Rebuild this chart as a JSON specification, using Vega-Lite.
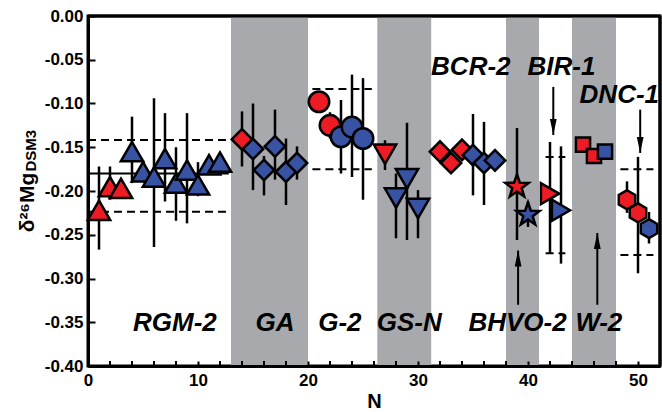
{
  "$schema": "https://vega.github.io/schema/vega-lite/v6.json",
  "width": 572,
  "height": 350,
  "autosize": {"type": "none"},
  "padding": {"left": 88, "top": 16, "right": 2, "bottom": 46},
  "background": "white",
  "config": {
    "font": "Liberation Sans",
    "view": {"stroke": "black", "strokeWidth": 3},
    "axis": {"grid": false, "domainColor": "black", "tickColor": "black", "labelColor": "black", "titleColor": "black", "domainWidth": 3, "tickWidth": 2, "labelFont": "Liberation Sans", "titleFont": "Liberation Sans", "labelFontWeight": "bold", "titleFontWeight": "bold", "labelFontSize": 17, "labelOverlap": false, "labelFlush": false, "zindex": 1}
  },
  "datasets": {
    "pts": [
      {"n": 1, "v": -0.222, "lo": -0.267, "hi": -0.172, "s": "RGM-2", "g": "r"},
      {"n": 2, "v": -0.195, "lo": -0.210, "hi": -0.172, "s": "RGM-2", "g": "r"},
      {"n": 3, "v": -0.197, "lo": -0.207, "hi": -0.187, "s": "RGM-2", "g": "r"},
      {"n": 4, "v": -0.155, "lo": -0.191, "hi": -0.115, "s": "RGM-2", "g": "b"},
      {"n": 5, "v": -0.178, "lo": -0.190, "hi": -0.165, "s": "RGM-2", "g": "b"},
      {"n": 6, "v": -0.184, "lo": -0.264, "hi": -0.094, "s": "RGM-2", "g": "b"},
      {"n": 7, "v": -0.163, "lo": -0.212, "hi": -0.111, "s": "RGM-2", "g": "b"},
      {"n": 8, "v": -0.191, "lo": -0.234, "hi": -0.150, "s": "RGM-2", "g": "b"},
      {"n": 9, "v": -0.176, "lo": -0.237, "hi": -0.111, "s": "RGM-2", "g": "b"},
      {"n": 10, "v": -0.193, "lo": -0.206, "hi": -0.167, "s": "RGM-2", "g": "b"},
      {"n": 11, "v": -0.170, "lo": -0.180, "hi": -0.160, "s": "RGM-2", "g": "b"},
      {"n": 12, "v": -0.167, "lo": -0.177, "hi": -0.157, "s": "RGM-2", "g": "b"},
      {"n": 14, "v": -0.141, "lo": -0.172, "hi": -0.109, "s": "GA", "g": "r"},
      {"n": 15, "v": -0.152, "lo": -0.199, "hi": -0.100, "s": "GA", "g": "b"},
      {"n": 16, "v": -0.176, "lo": -0.205, "hi": -0.160, "s": "GA", "g": "b"},
      {"n": 17, "v": -0.149, "lo": -0.187, "hi": -0.107, "s": "GA", "g": "b"},
      {"n": 18, "v": -0.178, "lo": -0.216, "hi": -0.140, "s": "GA", "g": "b"},
      {"n": 19, "v": -0.168, "lo": -0.187, "hi": -0.149, "s": "GA", "g": "b"},
      {"n": 21, "v": -0.098, "lo": -0.108, "hi": -0.088, "s": "G-2", "g": "r"},
      {"n": 22, "v": -0.125, "lo": -0.140, "hi": -0.110, "s": "G-2", "g": "r"},
      {"n": 23, "v": -0.138, "lo": -0.180, "hi": -0.096, "s": "G-2", "g": "b"},
      {"n": 24, "v": -0.127, "lo": -0.184, "hi": -0.067, "s": "G-2", "g": "b"},
      {"n": 25, "v": -0.140, "lo": -0.210, "hi": -0.071, "s": "G-2", "g": "b"},
      {"n": 27, "v": -0.158, "lo": -0.176, "hi": -0.142, "s": "GS-N", "g": "r"},
      {"n": 28, "v": -0.208, "lo": -0.254, "hi": -0.180, "s": "GS-N", "g": "b"},
      {"n": 29, "v": -0.186, "lo": -0.256, "hi": -0.122, "s": "GS-N", "g": "b"},
      {"n": 30, "v": -0.220, "lo": -0.254, "hi": -0.199, "s": "GS-N", "g": "b"},
      {"n": 32, "v": -0.155, "lo": -0.165, "hi": -0.145, "s": "BCR-2", "g": "r"},
      {"n": 33, "v": -0.168, "lo": -0.178, "hi": -0.158, "s": "BCR-2", "g": "r"},
      {"n": 34, "v": -0.153, "lo": -0.163, "hi": -0.143, "s": "BCR-2", "g": "r"},
      {"n": 35, "v": -0.159, "lo": -0.205, "hi": -0.112, "s": "BCR-2", "g": "b"},
      {"n": 36, "v": -0.168, "lo": -0.216, "hi": -0.121, "s": "BCR-2", "g": "b"},
      {"n": 37, "v": -0.165, "lo": -0.175, "hi": -0.155, "s": "BCR-2", "g": "b"},
      {"n": 39, "v": -0.195, "lo": -0.256, "hi": -0.128, "s": "BHVO-2", "g": "r"},
      {"n": 40, "v": -0.227, "lo": -0.241, "hi": -0.212, "s": "BHVO-2", "g": "b"},
      {"n": 42, "v": -0.203, "lo": -0.271, "hi": -0.144, "s": "BIR-1", "g": "r"},
      {"n": 43, "v": -0.222, "lo": -0.283, "hi": -0.149, "s": "BIR-1", "g": "b"},
      {"n": 45, "v": -0.147, "lo": -0.155, "hi": -0.139, "s": "W-2", "g": "r"},
      {"n": 46, "v": -0.160, "lo": -0.168, "hi": -0.152, "s": "W-2", "g": "r"},
      {"n": 47, "v": -0.155, "lo": -0.163, "hi": -0.147, "s": "W-2", "g": "b"},
      {"n": 49, "v": -0.210, "lo": -0.225, "hi": -0.189, "s": "DNC-1", "g": "r"},
      {"n": 50, "v": -0.225, "lo": -0.294, "hi": -0.161, "s": "DNC-1", "g": "r"},
      {"n": 51, "v": -0.243, "lo": -0.260, "hi": -0.224, "s": "DNC-1", "g": "b"}
    ],
    "bands": [
      {"n": 13, "n2": 20},
      {"n": 26.3, "n2": 31.2},
      {"n": 38, "n2": 41},
      {"n": 44, "n2": 48}
    ],
    "minor": [
      {"n": 2}, {"n": 4}, {"n": 6}, {"n": 8}, {"n": 12}, {"n": 14}, {"n": 16}, {"n": 18},
      {"n": 22}, {"n": 24}, {"n": 26}, {"n": 28}, {"n": 32}, {"n": 34}, {"n": 36}, {"n": 38},
      {"n": 42}, {"n": 44}, {"n": 46}, {"n": 48}
    ],
    "refs": [
      {"n": 0, "n2": 12.8, "v": -0.1417},
      {"n": 0, "n2": 12.8, "v": -0.2237},
      {"n": 20.4, "n2": 25.8, "v": -0.0834},
      {"n": 20.4, "n2": 25.8, "v": -0.175},
      {"n": 41.6, "n2": 43.4, "v": -0.161},
      {"n": 41.6, "n2": 43.4, "v": -0.271},
      {"n": 48.4, "n2": 51.4, "v": -0.175},
      {"n": 48.4, "n2": 51.4, "v": -0.273}
    ],
    "means": [
      {"n": 0, "n2": 12.8, "v": -0.180}
    ],
    "arrows": [
      {"n": 42.3, "v": -0.136, "v2": -0.081, "d": "down"},
      {"n": 50.2, "v": -0.1566, "v2": -0.107, "d": "down"},
      {"n": 39.1, "v": -0.268, "v2": -0.330, "d": "up"},
      {"n": 46.3, "v": -0.248, "v2": -0.330, "d": "up"}
    ],
    "labels": [
      {"t": "RGM-2", "n": 7.9, "v": -0.3605},
      {"t": "GA", "n": 17.0, "v": -0.3605},
      {"t": "G-2", "n": 22.9, "v": -0.3605},
      {"t": "GS-N", "n": 29.2, "v": -0.3605},
      {"t": "BHVO-2", "n": 39.05, "v": -0.3605},
      {"t": "W-2", "n": 46.45, "v": -0.3605},
      {"t": "BCR-2", "n": 34.8, "v": -0.0674},
      {"t": "BIR-1", "n": 43.05, "v": -0.0674},
      {"t": "DNC-1", "n": 48.3, "v": -0.0998}
    ],
    "sub": [
      {"t": "DSM3", "n": -4.7, "v": -0.1540}
    ]
  },
  "layer": [
    {
      "data": {"name": "bands"},
      "mark": {"type": "rect", "color": "#A7A9AC"},
      "encoding": {
        "x": {"field": "n", "type": "quantitative", "scale": {"domain": [0, 52], "nice": false, "zero": false},
          "axis": {"title": "N", "values": [0, 10, 20, 30, 40, 50], "zindex": 1,
            "tickSize": -5, "labelPadding": 11, "labelFlush": false, "labelOverlap": false,
            "titleFontSize": 20, "titleY": 41, "titleBaseline": "alphabetic"}},
        "x2": {"field": "n2"}
      }
    },
    {
      "data": {"name": "minor"},
      "mark": {"type": "rule", "color": "black", "strokeWidth": 2},
      "encoding": {
        "x": {"field": "n", "type": "quantitative"},
        "y": {"datum": -0.4},
        "y2": {"datum": -0.3943}
      }
    },
    {
      "data": {"name": "refs"},
      "mark": {"type": "rule", "color": "black", "strokeWidth": 2, "strokeDash": [8, 5]},
      "encoding": {
        "x": {"field": "n", "type": "quantitative"},
        "x2": {"field": "n2"},
        "y": {"field": "v", "type": "quantitative", "scale": {"domain": [-0.4, 0], "nice": false, "zero": false},
          "axis": {"title": "δ²⁶Mg", "values": [-0.4, -0.35, -0.3, -0.25, -0.2, -0.15, -0.1, -0.05, 0], "format": ".2f", "zindex": 1,
            "labelExpr": "replace(datum.label, '−', '-')", "tickSize": -7, "labelPadding": 12, "labelOverlap": false, "labelFlush": false,
            "titleAngle": 270, "titleX": -55, "titleY": 186, "titleAlign": "center", "titleBaseline": "alphabetic", "titleFontSize": 21}}
      }
    },
    {
      "data": {"name": "means"},
      "mark": {"type": "rule", "color": "black", "strokeWidth": 2},
      "encoding": {
        "x": {"field": "n", "type": "quantitative"},
        "x2": {"field": "n2"},
        "y": {"field": "v", "type": "quantitative"}
      }
    },
    {
      "data": {"name": "pts"},
      "mark": {"type": "rule", "color": "black", "strokeWidth": 2.5},
      "encoding": {
        "x": {"field": "n", "type": "quantitative"},
        "y": {"field": "lo", "type": "quantitative"},
        "y2": {"field": "hi"}
      }
    },
    {
      "data": {"name": "pts"},
      "mark": {"type": "point", "filled": true, "stroke": "black", "strokeWidth": 2.5, "opacity": 1, "clip": false},
      "encoding": {
        "x": {"field": "n", "type": "quantitative"},
        "y": {"field": "v", "type": "quantitative"},
        "shape": {"field": "s", "type": "nominal", "legend": null,
          "scale": {"domain": ["RGM-2", "GA", "G-2", "GS-N", "BCR-2", "BHVO-2", "BIR-1", "W-2", "DNC-1"],
            "range": ["triangle-up", "diamond", "circle", "triangle-down", "diamond",
              "M0,-1L0.235,-0.324L0.951,-0.309L0.38,0.124L0.588,0.809L0,0.4L-0.588,0.809L-0.38,0.124L-0.951,-0.309L-0.235,-0.324Z",
              "triangle-right", "square", "M0,-1L0.866,-0.5L0.866,0.5L0,1L-0.866,0.5L-0.866,-0.5Z"]}},
        "size": {"field": "s", "type": "nominal", "legend": null,
          "scale": {"type": "ordinal", "domain": ["RGM-2", "GA", "G-2", "GS-N", "BCR-2", "BHVO-2", "BIR-1", "W-2", "DNC-1"],
            "range": [500, 420, 420, 500, 420, 600, 440, 200, 360]}},
        "color": {"field": "g", "type": "nominal", "legend": null, "scale": {"domain": ["r", "b"], "range": ["#ED1C24", "#3953A4"]}}
      }
    },
    {
      "data": {"name": "arrows"},
      "mark": {"type": "rule", "color": "black", "strokeWidth": 2},
      "encoding": {
        "x": {"field": "n", "type": "quantitative"},
        "y": {"field": "v", "type": "quantitative"},
        "y2": {"field": "v2"}
      }
    },
    {
      "data": {"name": "arrows"},
      "transform": [{"filter": "datum.d === 'down'"}],
      "mark": {"type": "point", "filled": true, "color": "black", "opacity": 1, "strokeWidth": 0, "size": 450, "shape": "M0,0L-0.32,-1.5L0.32,-1.5Z"},
      "encoding": {
        "x": {"field": "n", "type": "quantitative"},
        "y": {"field": "v", "type": "quantitative"}
      }
    },
    {
      "data": {"name": "arrows"},
      "transform": [{"filter": "datum.d === 'up'"}],
      "mark": {"type": "point", "filled": true, "color": "black", "opacity": 1, "strokeWidth": 0, "size": 450, "shape": "M0,0L-0.32,1.5L0.32,1.5Z"},
      "encoding": {
        "x": {"field": "n", "type": "quantitative"},
        "y": {"field": "v", "type": "quantitative"}
      }
    },
    {
      "data": {"name": "labels"},
      "mark": {"type": "text", "font": "Liberation Sans", "fontSize": 26, "fontWeight": "bold", "fontStyle": "italic", "align": "center", "baseline": "alphabetic", "color": "black"},
      "encoding": {
        "x": {"field": "n", "type": "quantitative"},
        "y": {"field": "v", "type": "quantitative"},
        "text": {"field": "t"}
      }
    },
    {
      "data": {"name": "sub"},
      "mark": {"type": "text", "font": "Liberation Sans", "fontSize": 15, "fontWeight": "bold", "align": "center", "baseline": "alphabetic", "angle": 270, "color": "black"},
      "encoding": {
        "x": {"field": "n", "type": "quantitative"},
        "y": {"field": "v", "type": "quantitative"},
        "text": {"field": "t"}
      }
    },
    {
      "data": {"values": [{}]},
      "mark": {"type": "rule", "color": "black", "strokeWidth": 3},
      "encoding": {"y": {"datum": 0}}
    },
    {
      "data": {"values": [{}]},
      "mark": {"type": "rule", "color": "black", "strokeWidth": 3},
      "encoding": {"x": {"datum": 52}}
    }
  ]
}
